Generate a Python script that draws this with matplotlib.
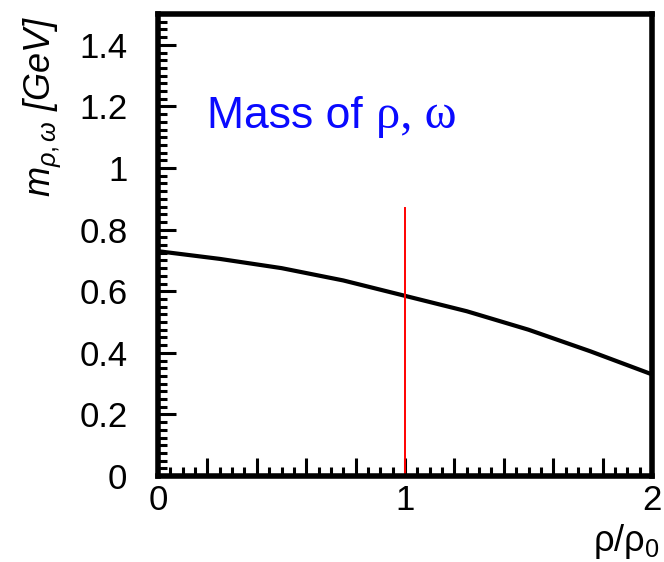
import numpy as np
import matplotlib
matplotlib.use('Agg')
import matplotlib.pyplot as plt
from matplotlib.ticker import MultipleLocator, FuncFormatter

plt.rcParams['font.family'] = ['Liberation Sans', 'DejaVu Sans']
plt.rcParams['mathtext.fontset'] = 'custom'
plt.rcParams['mathtext.rm'] = 'Liberation Sans'
plt.rcParams['mathtext.it'] = 'Liberation Sans:italic'

# density ratio rho/rho0 and vector meson mass (GeV)
density = [0.0, 0.25, 0.5, 0.75, 1.0, 1.25, 1.5, 1.75, 2.0]
mass = [0.73, 0.705, 0.675, 0.635, 0.585, 0.535, 0.475, 0.405, 0.33]
marker_x = 1.0
marker_top = 0.87


def x_label(v, p):
    if abs(v - round(v)) < 1e-6:
        return '%d' % round(v)
    return ''


fig = plt.figure(figsize=(6.64, 5.62), dpi=100)
ax = fig.add_axes([0.238, 0.153, 0.744, 0.822])

ax.plot(density, mass, color='black', lw=3)
ax.plot([marker_x, marker_x], [0, marker_top], color='red', lw=1.4)

ax.set_xlim(0, 2)
ax.set_ylim(0, 1.5)
ax.xaxis.set_major_locator(MultipleLocator(0.2))
ax.xaxis.set_minor_locator(MultipleLocator(0.05))
ax.yaxis.set_major_locator(MultipleLocator(0.2))
ax.yaxis.set_minor_locator(MultipleLocator(0.025))
ax.yaxis.set_major_formatter(FuncFormatter(lambda v, p: '%g' % round(v, 2)))
ax.xaxis.set_major_formatter(FuncFormatter(x_label))

ax.tick_params(which='both', direction='in', width=2.2, color='black',
               labelsize=25, top=False, right=False)
ax.tick_params(which='major', length=13)
ax.tick_params(which='minor', length=6.5)
ax.tick_params(axis='x', which='major', pad=6)
ax.tick_params(axis='y', which='major', pad=22)

for s in ax.spines.values():
    s.set_linewidth(4)

ax.set_ylabel(r'$m_{\rho,\omega}$ [GeV]', fontsize=26, style='italic')
ax.yaxis.set_label_coords(-0.19, 0.80)
fig.text(0.994, 0.002, r'ρ/ρ$_{\mathit{0}}$', fontsize=26, ha='right', va='bottom')

fig.text(0.312, 0.772, 'Mass of', color='#0a0aff', fontsize=32, ha='left', va='baseline')
fig.text(0.566, 0.772, 'ρ, ω', color='#0a0aff', fontsize=35, family='Liberation Serif',
         ha='left', va='baseline')

fig.savefig('out.png', dpi=100)
